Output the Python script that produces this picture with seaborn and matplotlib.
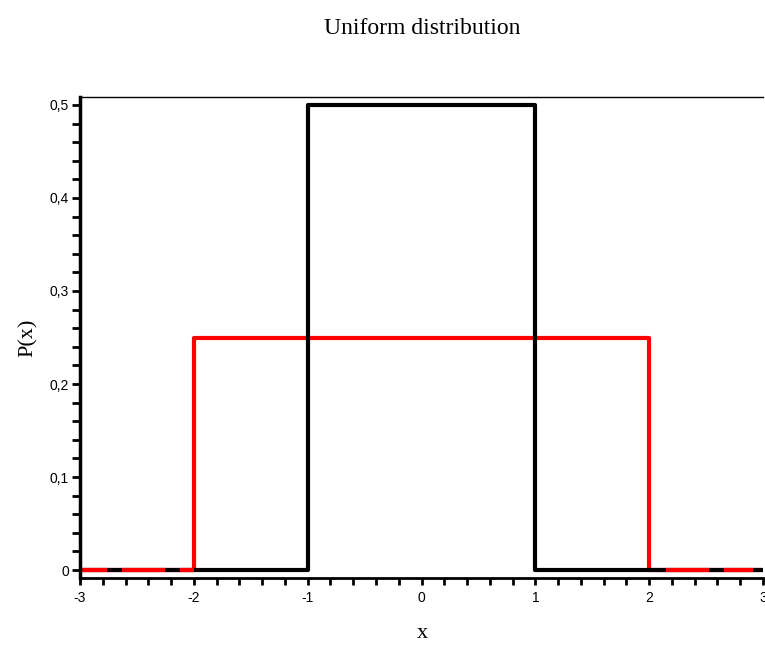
import numpy as np
import pandas as pd
import seaborn as sns
import matplotlib.pyplot as plt
from matplotlib.ticker import MultipleLocator, FuncFormatter

# step vertices of the two uniform densities
black_x = [-3, -1, -1, 1, 1, 3]
black_y = [0, 0, 0.5, 0.5, 0, 0]
red_x = [-3, -2, -2, 2, 2, 3]
red_y = [0, 0, 0.25, 0.25, 0, 0]

# pieces of the red zero line that show through the black one
red_zero_segments = [(-3.0, -2.765), (-2.63, -2.25), (-2.12, -2.0),
                     (2.15, 2.53), (2.66, 2.91)]

x_ticks = [-3, -2, -1, 0, 1, 2, 3]
y_ticks = [0, 0.1, 0.2, 0.3, 0.4, 0.5]

sns.set_style("ticks")
plt.rcParams['font.family'] = ['Liberation Sans', 'DejaVu Sans']

fig = plt.figure(figsize=(7.65, 6.45), dpi=100)
ax = fig.add_axes([80 / 765, 67 / 645, 683 / 765, 481 / 645])

red = pd.DataFrame({'x': red_x, 'y': red_y})
black = pd.DataFrame({'x': black_x, 'y': black_y})
sns.lineplot(data=red, x='x', y='y', sort=False, estimator=None,
             color='#ff0000', lw=3, ax=ax)
sns.lineplot(data=black, x='x', y='y', sort=False, estimator=None,
             color='black', lw=3, ax=ax)
for a, b in red_zero_segments:
    ax.plot([a, b], [0, 0], color='#ff0000', lw=3, solid_capstyle='butt')

ax.set_xlim(-3, 3)
ax.set_ylim(-0.0086, 0.5086)
ax.set_xticks(x_ticks)
ax.set_yticks(y_ticks)
ax.xaxis.set_minor_locator(MultipleLocator(0.2))
ax.yaxis.set_minor_locator(MultipleLocator(0.02))


def comma(v, pos):
    if abs(v) < 1e-9:
        return '0'
    s = f'{v:g}'
    return s.replace('.', ',')


ax.xaxis.set_major_formatter(FuncFormatter(comma))
ax.yaxis.set_major_formatter(FuncFormatter(comma))
ax.tick_params(which='both', direction='out', width=2, length=6,
               labelsize=10, color='black', labelcolor='black', pad=2)
ax.tick_params(axis='x', which='both', length=5, pad=4)

ax.spines['right'].set_visible(False)
ax.spines['left'].set_linewidth(2.5)
ax.spines['bottom'].set_linewidth(2)
ax.spines['top'].set_linewidth(1)
for s in ax.spines.values():
    s.set_color('black')

ax.set_xlabel('')
ax.set_ylabel('')
fig.text(422 / 765, 1 - 28 / 645, 'Uniform distribution', ha='center',
         va='center', fontsize=17, family='Liberation Serif', color='black')
fig.text(422 / 765, 1 - 633 / 645, 'x', ha='center', va='center',
         fontsize=16, family='Liberation Serif', color='black')
fig.text(28 / 765, 1 - 338 / 645, 'P(x)', ha='center', va='center',
         fontsize=16, family='Liberation Serif', rotation=90, color='black')

fig.savefig('out.png', dpi=100)
